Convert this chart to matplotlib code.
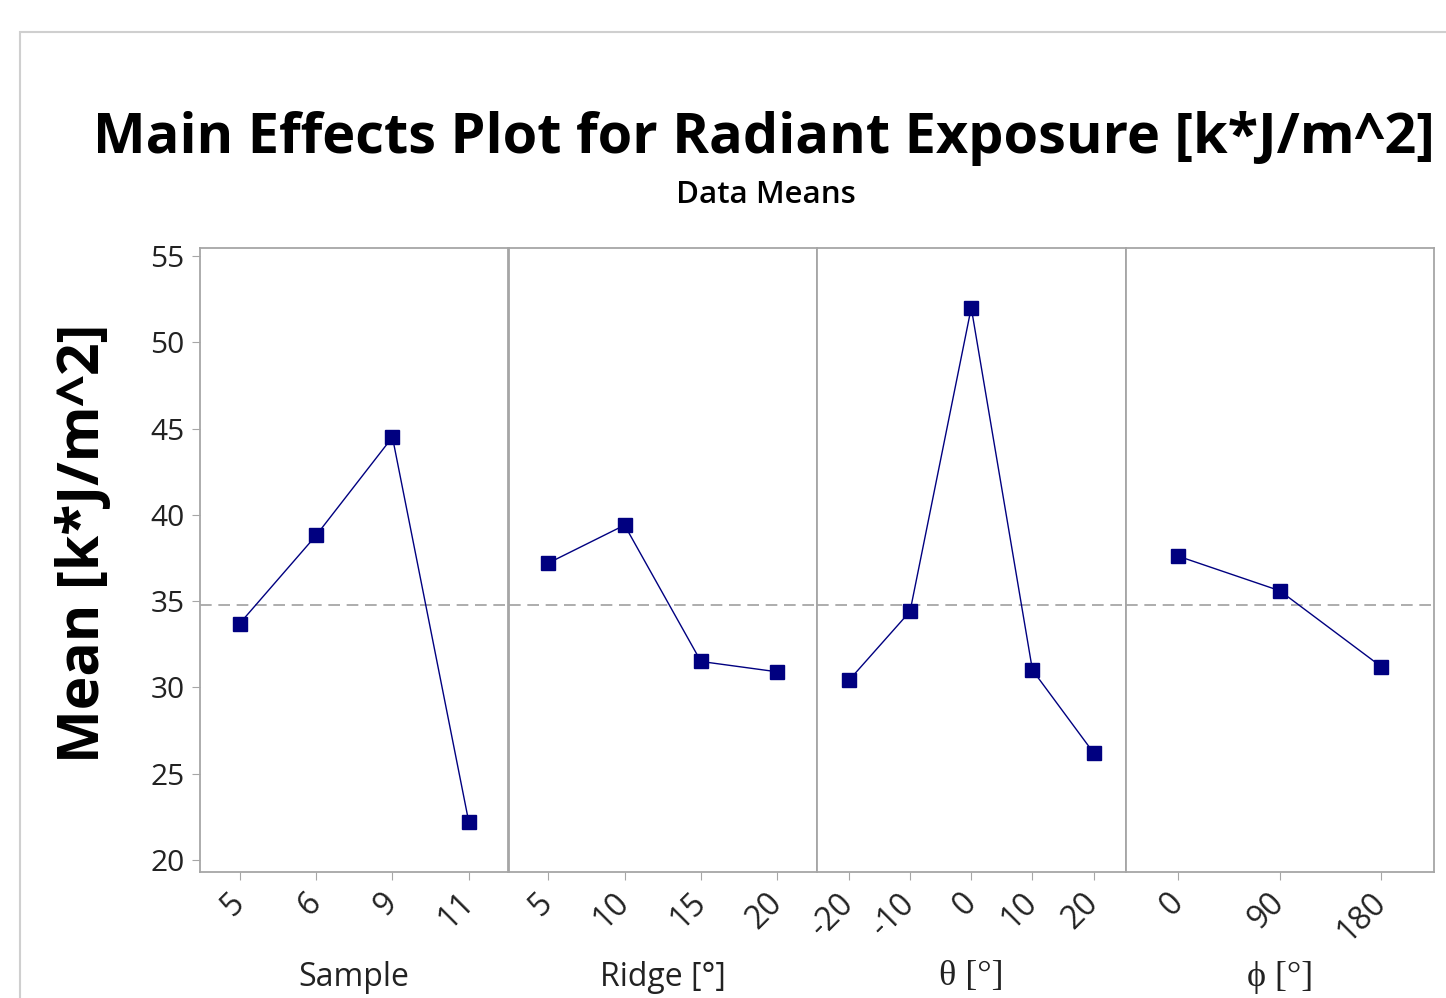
import numpy as np
import matplotlib
matplotlib.use("Agg")
import matplotlib.pyplot as plt
from matplotlib.patches import Rectangle

# data
sample_levels = ["5", "6", "9", "11"]
sample_means = [33.7, 38.8, 44.5, 22.2]
ridge_levels = ["5", "10", "15", "20"]
ridge_means = [37.2, 39.4, 31.5, 30.9]
theta_levels = ["-20", "-10", "0", "10", "20"]
theta_means = [30.4, 34.4, 52.0, 31.0, 26.2]
phi_levels = ["0", "90", "180"]
phi_means = [37.6, 35.6, 31.2]
grand_mean = 34.8

factor_names = ["Sample", "Ridge [°]", "θ [°]", "ϕ [°]"]
factor_levels = [sample_levels, ridge_levels, theta_levels, phi_levels]
factor_means = [sample_means, ridge_means, theta_means, phi_means]

W, H = 1446, 998
fig = plt.figure(figsize=(W / 100, H / 100), dpi=100)
sans = ['Open Sans', 'DejaVu Sans']
serif = ['Liberation Serif', 'DejaVu Serif']
plt.rcParams['font.family'] = sans

def fx(px):
    return px / W

def fy(py):
    return 1 - py / H

# light outer frame
fig.patches.append(Rectangle((fx(20), -0.1), 1.2, fy(32) + 0.1, transform=fig.transFigure,
                             fill=False, edgecolor='#cfcfcf', linewidth=1.5))

fig.text(fx(764), fy(138), "Main Effects Plot for Radiant Exposure [k*J/m^2]",
         ha='center', va='center', fontsize=40.2, fontweight='bold', color='black')
fig.text(fx(766), fy(195), "Data Means", ha='center', va='center', fontsize=22.5,
         fontweight='semibold', color='black')
fig.text(fx(84), fy(543), "Mean [k*J/m^2]", ha='center', va='center', rotation=90,
         fontsize=41, fontweight='bold', color='black')

left, right, top, bottom = 200, 1434, 248, 872
pw = (right - left) / 4
spine_col = '#a6a6a6'

for i, (name, levels, means) in enumerate(zip(factor_names, factor_levels, factor_means)):
    ax = fig.add_axes([fx(left + i * pw), fy(bottom), fx(pw), (bottom - top) / H])
    x = np.arange(len(levels))
    ax.axhline(grand_mean, color='#a0a0a0', linestyle=(0, (7, 4)), linewidth=1.2, zorder=1)
    ax.plot(x, means, color='#000080', linewidth=1.0, marker='s', markersize=10,
            markerfacecolor='#000080', markeredgecolor='#000080', zorder=3)
    ax.set_xlim(-0.52, len(levels) - 0.48)
    ax.set_ylim(19.3, 55.46)
    ax.set_xticks(x)
    ax.set_xticklabels(levels, rotation=45, ha='right', va='center', rotation_mode='anchor',
                       fontsize=23, color='#222222')
    ax.tick_params(axis='x', length=6, color=spine_col, pad=13)
    ax.set_yticks(np.arange(20, 56, 5))
    if i == 0:
        ax.tick_params(axis='y', length=6, color=spine_col, labelsize=21.5, labelcolor='#222222', pad=5)
    else:
        ax.tick_params(axis='y', left=False, labelleft=False)
    for s in ax.spines.values():
        s.set_color(spine_col)
        s.set_linewidth(1.3)
    fam = serif if i >= 2 else sans
    fsz = 26 if i >= 2 else 23
    fig.text(fx(left + (i + 0.5) * pw), fy(977), name, ha='center', va='center',
             fontsize=fsz, color='#222222', family=fam)

fig.savefig("out.png", dpi=100)
